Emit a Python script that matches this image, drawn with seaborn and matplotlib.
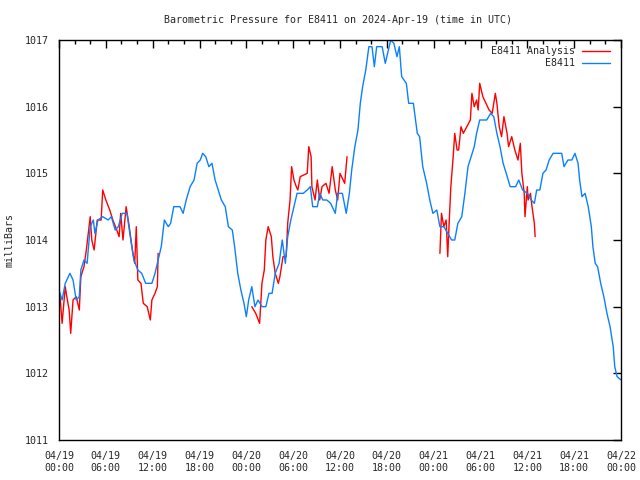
import pandas as pd
import numpy as np
import seaborn as sns
import matplotlib
matplotlib.use("Agg")
import matplotlib.pyplot as plt
import matplotlib.dates as mdates
from matplotlib.lines import Line2D

# hours after 2024-04-19 00:00 UTC, pressure in mb
obs_hours = [0.0, 0.4, 0.8, 1.4, 1.8, 2.2, 2.6, 2.8, 3.2, 3.6, 4.0, 4.4, 4.6, 5.0, 5.6, 6.3,
             6.7, 7.2, 7.6, 8.1, 8.7, 9.2, 9.6, 10.1, 10.6, 11.1, 11.9, 12.3, 12.7, 13.1, 13.5,
             14.0, 14.3, 14.7, 15.5, 15.9, 16.3, 16.8, 17.3, 17.7, 18.1, 18.4, 18.8, 19.2, 19.6,
             20.0, 20.4, 20.8, 21.3, 21.7, 22.2, 22.5, 22.9, 23.3, 23.7, 24.0, 24.3, 24.7, 25.1,
             25.5, 26.0, 26.5, 26.9, 27.3, 27.7, 28.2, 28.6, 29.0, 29.3, 29.7, 30.1, 30.5, 31.3,
             31.8, 32.2, 32.5, 33.1, 33.4, 33.8, 34.3, 34.8, 35.4, 35.7, 36.3, 36.8, 37.2, 37.5,
             37.9, 38.3, 38.6, 38.9, 39.3, 39.7, 40.1, 40.4, 40.7, 41.4, 41.8, 42.1, 42.5, 42.9,
             43.3, 43.6, 43.9, 44.5, 44.8, 45.4, 45.9, 46.2, 46.6, 47.1, 47.5, 47.9, 48.4, 48.8,
             49.3, 49.8, 50.3, 50.7, 51.1, 51.6, 52.0, 52.4, 52.8, 53.2, 53.5, 53.9, 54.8, 55.3,
             55.7, 56.1, 56.5, 56.9, 57.3, 57.8, 58.5, 58.9, 59.4, 60.0, 60.5, 60.9, 61.2, 61.6,
             62.0, 62.4, 62.8, 63.3, 64.4, 64.7, 65.2, 65.7, 66.1, 66.5, 66.7, 67.0, 67.4, 67.8,
             68.2, 68.4, 68.7, 69.0, 69.4, 69.8, 70.2, 70.6, 71.0, 71.2, 71.5, 72.0]
obs_mb = [1013.25, 1013.1, 1013.35, 1013.5, 1013.4, 1013.1, 1013.15, 1013.55, 1013.7, 1013.65,
          1014.2, 1014.3, 1014.1, 1014.3, 1014.35, 1014.3, 1014.35, 1014.15, 1014.2, 1014.4,
          1014.4, 1014.0, 1013.7, 1013.55, 1013.5, 1013.35, 1013.35, 1013.5, 1013.7, 1013.9,
          1014.3, 1014.2, 1014.25, 1014.5, 1014.5, 1014.4, 1014.6, 1014.8, 1014.9, 1015.15,
          1015.2, 1015.3, 1015.25, 1015.1, 1015.15, 1014.9, 1014.75, 1014.6, 1014.5, 1014.2,
          1014.15, 1013.9, 1013.5, 1013.25, 1013.05, 1012.85, 1013.1, 1013.3, 1013.0, 1013.1,
          1013.0, 1013.0, 1013.2, 1013.2, 1013.5, 1013.65, 1014.0, 1013.65, 1014.05, 1014.3,
          1014.5, 1014.7, 1014.7, 1014.75, 1014.8, 1014.5, 1014.5, 1014.7, 1014.6, 1014.6,
          1014.55, 1014.4, 1014.7, 1014.7, 1014.4, 1014.7, 1015.05, 1015.4, 1015.65, 1016.05,
          1016.3, 1016.55, 1016.9, 1016.9, 1016.6, 1016.9, 1016.9, 1016.65, 1016.8, 1017.0,
          1016.95, 1016.75, 1016.9, 1016.45, 1016.35, 1016.05, 1016.05, 1015.6, 1015.55, 1015.1,
          1014.85, 1014.6, 1014.4, 1014.45, 1014.2, 1014.2, 1014.1, 1014.0, 1014.0, 1014.25,
          1014.35, 1014.7, 1015.1, 1015.25, 1015.4, 1015.6, 1015.8, 1015.8, 1015.9, 1015.85,
          1015.6, 1015.4, 1015.15, 1015.0, 1014.8, 1014.8, 1014.9, 1014.75, 1014.7, 1014.6,
          1014.55, 1014.75, 1014.75, 1015.0, 1015.05, 1015.2, 1015.3, 1015.3, 1015.1, 1015.2,
          1015.2, 1015.3, 1015.15, 1014.9, 1014.65, 1014.7, 1014.5, 1014.2, 1013.9, 1013.65,
          1013.6, 1013.35, 1013.15, 1012.9, 1012.7, 1012.4, 1012.1, 1011.95, 1011.9]

# analysis comes in three separate runs
ana1_hours = [0.1, 0.4, 0.8, 1.0, 1.3, 1.5, 1.8, 2.2, 2.6, 2.8, 3.2, 3.5, 3.7, 4.0, 4.2, 4.5,
              4.9, 5.4, 5.6, 6.0, 6.5, 6.9, 7.4, 7.7, 7.9, 8.2, 8.6, 9.0, 9.4, 9.7, 9.9, 10.1,
              10.5, 10.8, 11.3, 11.7, 11.9, 12.3, 12.6, 12.7]
ana1_mb = [1013.2, 1012.75, 1013.3, 1013.15, 1012.95, 1012.6, 1013.1, 1013.15, 1012.95, 1013.45,
           1013.6, 1013.85, 1014.05, 1014.35, 1014.0, 1013.85, 1014.3, 1014.3, 1014.75, 1014.6,
           1014.45, 1014.3, 1014.15, 1014.05, 1014.4, 1014.0, 1014.5, 1014.2, 1013.85, 1013.65,
           1014.2, 1013.4, 1013.35, 1013.05, 1013.0, 1012.8, 1013.1, 1013.2, 1013.3, 1013.8]
ana2_hours = [24.7, 25.2, 25.7, 26.0, 26.3, 26.5, 26.8, 27.2, 27.4, 27.7, 28.1, 28.3, 28.7, 29.1,
              29.3, 29.6, 29.8, 30.1, 30.4, 30.6, 30.9, 31.8, 32.0, 32.3, 32.4, 32.8, 33.1, 33.4,
              33.7, 34.2, 34.6, 34.8, 35.0, 35.4, 35.7, 36.0, 36.4, 36.6, 36.9]
ana2_mb = [1013.0, 1012.9, 1012.75, 1013.35, 1013.55, 1014.0, 1014.2, 1014.05, 1013.75, 1013.5,
           1013.35, 1013.45, 1013.75, 1013.75, 1014.25, 1014.6, 1015.1, 1014.9, 1014.8, 1014.75,
           1014.95, 1015.0, 1015.4, 1015.25, 1014.8, 1014.6, 1014.9, 1014.6, 1014.8, 1014.85,
           1014.7, 1014.9, 1015.1, 1014.75, 1014.6, 1015.0, 1014.9, 1014.85, 1015.25]
ana3_hours = [48.8, 49.0, 49.3, 49.6, 49.8, 50.0, 50.2, 50.5, 50.7, 51.0, 51.2, 51.5, 51.8, 52.7,
              52.9, 53.2, 53.5, 53.7, 53.9, 54.3, 54.7, 55.1, 55.5, 55.9, 56.1, 56.4, 56.7, 57.0,
              57.4, 57.6, 58.0, 58.4, 58.8, 59.1, 59.3, 59.6, 59.7, 60.0, 60.1, 60.4, 60.6, 60.9,
              61.0]
ana3_mb = [1013.8, 1014.4, 1014.2, 1014.3, 1013.75, 1014.3, 1014.8, 1015.25, 1015.6, 1015.35,
           1015.35, 1015.7, 1015.6, 1015.8, 1016.2, 1016.0, 1016.1, 1015.95, 1016.35, 1016.15,
           1016.05, 1015.95, 1015.9, 1016.2, 1016.05, 1015.7, 1015.55, 1015.85, 1015.6, 1015.4,
           1015.55, 1015.35, 1015.2, 1015.45, 1015.0, 1014.7, 1014.35, 1014.8, 1014.6, 1014.7,
           1014.5, 1014.25, 1014.05]

start = pd.Timestamp("2024-04-19 00:00")

obs = pd.DataFrame({"hours": obs_hours, "mb": obs_mb})
obs["time"] = start + pd.to_timedelta(obs["hours"], unit="h")

ana = pd.concat([
    pd.DataFrame({"hours": ana1_hours, "mb": ana1_mb, "run": 1}),
    pd.DataFrame({"hours": ana2_hours, "mb": ana2_mb, "run": 2}),
    pd.DataFrame({"hours": ana3_hours, "mb": ana3_mb, "run": 3}),
])
ana["time"] = start + pd.to_timedelta(ana["hours"], unit="h")

sns.set_style("white")
plt.rcParams["font.family"] = ["DejaVu Sans Mono", "DejaVu Sans"]
fs = 7.2
red = "#ff0000"
blue = "#0a80ff"

fig = plt.figure(figsize=(6.4, 4.8), dpi=100)
ax = fig.add_axes([59 / 640, 40 / 480, 562 / 640, 400 / 480])

sns.lineplot(data=ana, x="time", y="mb", units="run", estimator=None,
             color=red, linewidth=1.0, ax=ax)
sns.lineplot(data=obs, x="time", y="mb", estimator=None,
             color=blue, linewidth=1.0, ax=ax)

ax.set_xlim(start, start + pd.Timedelta(hours=72))
ax.set_ylim(1011, 1017)
ax.set_yticks([1011, 1012, 1013, 1014, 1015, 1016, 1017])
ax.xaxis.set_major_locator(mdates.HourLocator(byhour=[0, 6, 12, 18]))
ax.xaxis.set_minor_locator(mdates.HourLocator(interval=2))
ax.xaxis.set_major_formatter(mdates.DateFormatter("%m/%d\n%H:%M"))

ax.tick_params(which="both", direction="in", top=True, right=True,
               labelsize=fs, color="black", width=1.0)
ax.tick_params(which="major", length=6)
ax.tick_params(which="minor", length=3)
ax.tick_params(axis="x", pad=8)
ax.tick_params(axis="y", pad=7)
for sp in ax.spines.values():
    sp.set_color("black")
    sp.set_linewidth(1.0)

ax.set_xlabel("")
ax.set_ylabel("milliBars", fontsize=fs, labelpad=8)
fig.text(338 / 640, 1 - 20 / 480, "Barometric Pressure for E8411 on 2024-Apr-19 (time in UTC)",
         ha="center", va="center", fontsize=fs)

handles = [Line2D([], [], color=red, linewidth=1.0),
           Line2D([], [], color=blue, linewidth=1.0)]
ax.legend(handles, ["E8411 Analysis", "E8411"], loc="upper right", markerfirst=False,
          frameon=False, fontsize=fs, handlelength=2.8, handletextpad=0.7,
          labelspacing=0.2, borderpad=0, borderaxespad=0,
          bbox_to_anchor=(610 / 640, 1 - 46 / 480), bbox_transform=fig.transFigure)

fig.savefig("out.png", dpi=100)
